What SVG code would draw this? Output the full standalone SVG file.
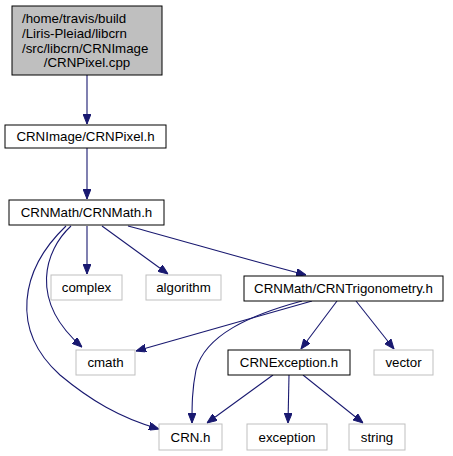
<svg xmlns="http://www.w3.org/2000/svg" width="453" height="456" viewBox="0 0 453 456">
<style>
text{font-family:"Liberation Sans",Arial,sans-serif;font-size:13.3px;fill:#000}
.n rect{fill:#fff;stroke:#000;stroke-width:1}
.x rect{fill:#fff;stroke:#bfbfbf;stroke-width:1}
.c{text-anchor:middle}
#edges path{fill:none;stroke:#191970;stroke-width:1.1}
</style>
<defs>
<marker id="ah" viewBox="0 0 10 8" refX="10" refY="4" markerWidth="10" markerHeight="8" markerUnits="userSpaceOnUse" orient="auto">
<path d="M0,0 L10,4 L0,8 Z" fill="#191970" stroke="#191970"/>
</marker>
</defs>
<rect width="453" height="456" fill="#fff"/>
<g id="edges">
<path d="M87,75 L87,124" marker-end="url(#ah)"/>
<path d="M87,148 L87,199" marker-end="url(#ah)"/>
<path d="M87,226 L87,274" marker-end="url(#ah)"/>
<path d="M102,226 L168,274" marker-end="url(#ah)"/>
<path d="M128,226 C180,240 255,262 306,275" marker-end="url(#ah)"/>
<path d="M71,226 C45,250 28,300 82,347" marker-end="url(#ah)"/>
<path d="M66,226 C20,270 10,330 60,375 C90,400 120,418 159,429" marker-end="url(#ah)"/>
<path d="M312,301 L136,351" marker-end="url(#ah)"/>
<path d="M302,301 C250,315 205,335 196,370 C192,390 192,405 192,423" marker-end="url(#ah)"/>
<path d="M337,301 L301,349" marker-end="url(#ah)"/>
<path d="M356,301 L394,349" marker-end="url(#ah)"/>
<path d="M273,375 L207,423" marker-end="url(#ah)"/>
<path d="M289,375 L288,423" marker-end="url(#ah)"/>
<path d="M303,375 L363,423" marker-end="url(#ah)"/>
</g>
<g id="node-cpp" class="n">
<rect x="12" y="6" width="150" height="69" style="fill:#bfbfbf"/>
<text x="22" y="23">/home/travis/build</text>
<text x="22" y="38">/Liris-Pleiad/libcrn</text>
<text x="22" y="52.5">/src/libcrn/CRNImage</text>
<text x="87" y="67" class="c">/CRNPixel.cpp</text>
</g>
<g id="node-pixel" class="n">
<rect x="5" y="125" width="161" height="23"/>
<text x="85.5" y="141" class="c">CRNImage/CRNPixel.h</text>
</g>
<g id="node-math" class="n">
<rect x="9" y="200" width="155" height="25"/>
<text x="86.5" y="217" class="c">CRNMath/CRNMath.h</text>
</g>
<g id="node-complex" class="x">
<rect x="51" y="275" width="71" height="25"/>
<text x="86.5" y="292" class="c">complex</text>
</g>
<g id="node-algorithm" class="x">
<rect x="146" y="275" width="75" height="25"/>
<text x="183.5" y="292" class="c">algorithm</text>
</g>
<g id="node-trig" class="n">
<rect x="244" y="276" width="199" height="25"/>
<text x="343.5" y="293" class="c">CRNMath/CRNTrigonometry.h</text>
</g>
<g id="node-cmath" class="x">
<rect x="76" y="350" width="59" height="25"/>
<text x="105.5" y="367" class="c">cmath</text>
</g>
<g id="node-exc" class="n">
<rect x="228" y="350" width="122" height="25"/>
<text x="289" y="367" class="c">CRNException.h</text>
</g>
<g id="node-vector" class="x">
<rect x="374" y="350" width="59" height="25"/>
<text x="403.5" y="367" class="c">vector</text>
</g>
<g id="node-crn" class="x">
<rect x="159" y="424" width="63" height="26"/>
<text x="190.5" y="441.5" class="c">CRN.h</text>
</g>
<g id="node-exception" class="x">
<rect x="247" y="424" width="80" height="26"/>
<text x="287" y="441.5" class="c">exception</text>
</g>
<g id="node-string" class="x">
<rect x="349" y="424" width="56" height="26"/>
<text x="377" y="441.5" class="c">string</text>
</g>
</svg>
